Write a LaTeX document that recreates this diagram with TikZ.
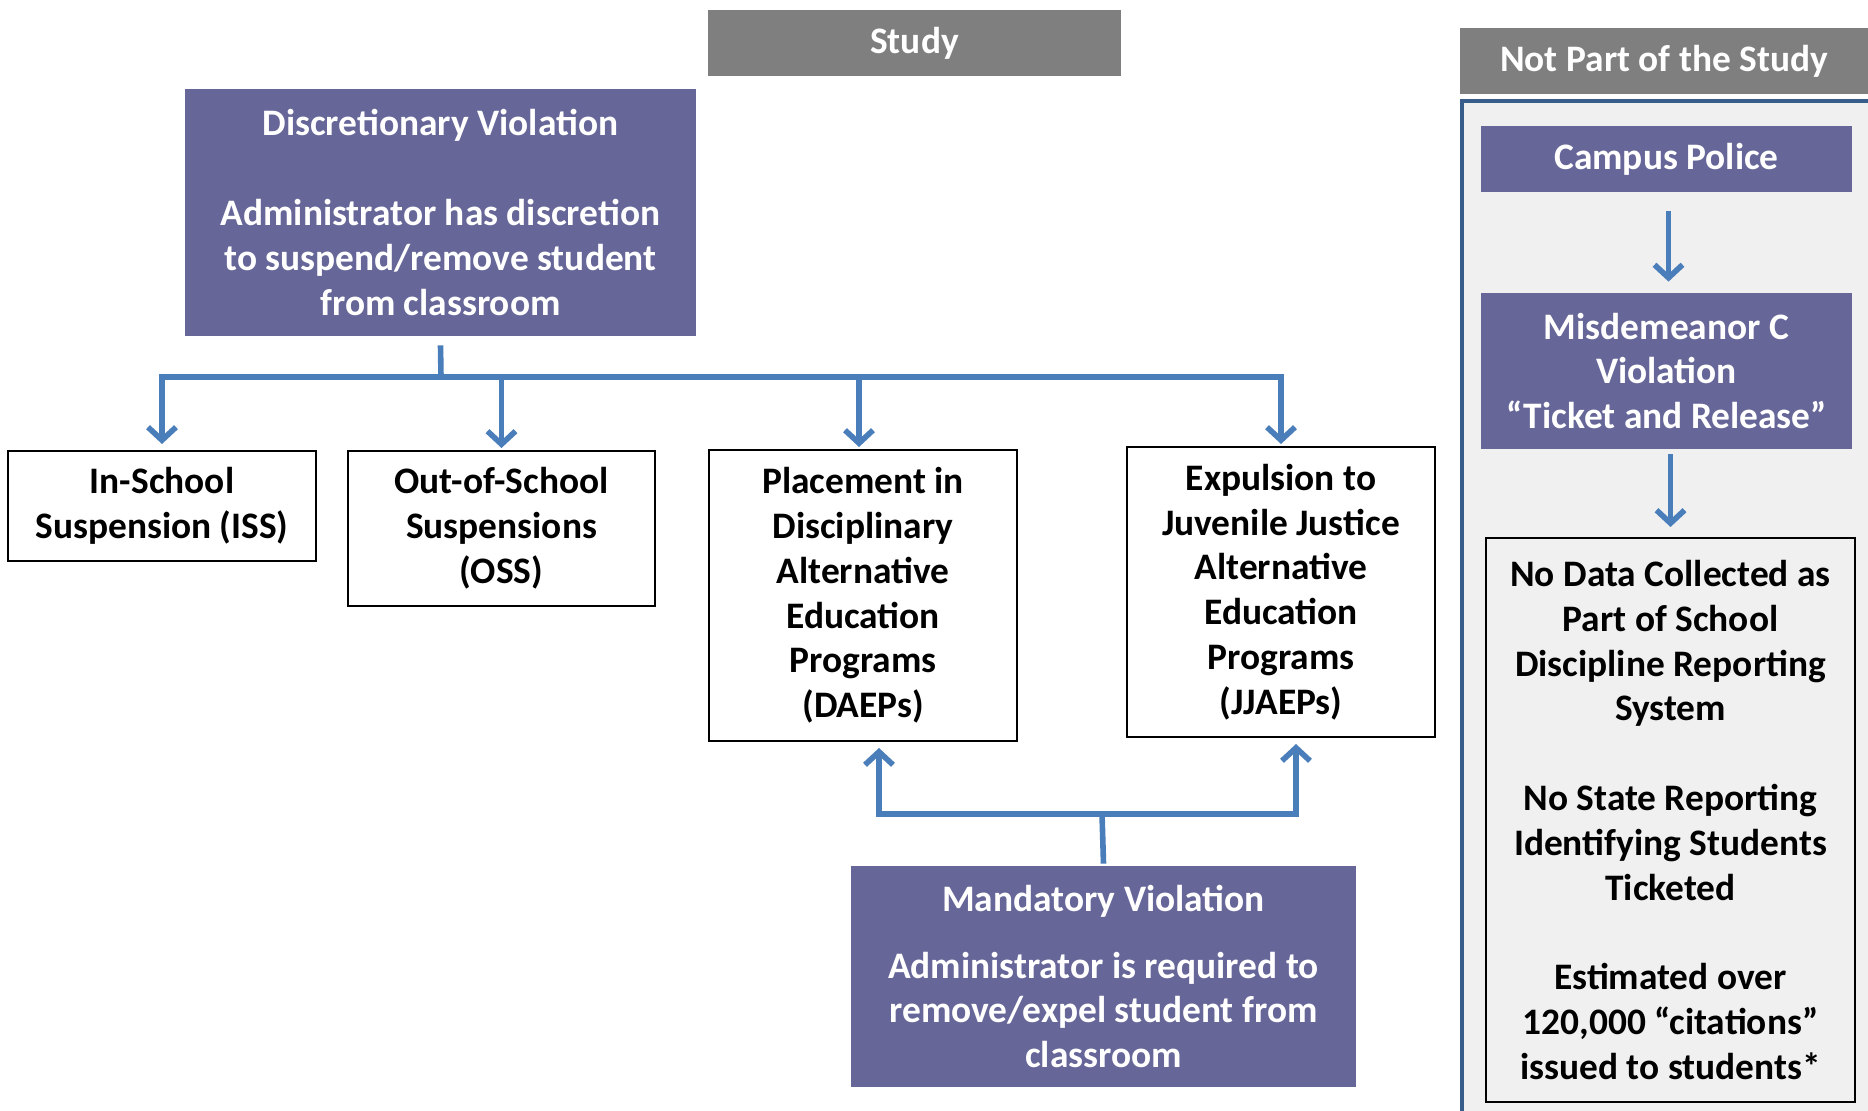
\documentclass[tikz,border=0pt]{standalone}
\usepackage{fontspec}
\setmainfont{Carlito}
\usetikzlibrary{arrows.meta, positioning, calc}

\definecolor{boxPurple}{RGB}{102,102,153}
\definecolor{headGray}{RGB}{127,127,127}
\definecolor{arrowBlue}{RGB}{74,126,187}
\definecolor{panelBlue}{RGB}{56,93,138}
\definecolor{panelGray}{RGB}{240,240,240}

\begin{document}
\begin{tikzpicture}[
  x=0.5pt, y=-0.5pt,
  txt/.style={font=\bfseries\fontsize{18.7}{22.4}\selectfont, align=center, inner sep=0pt},
  head/.style={txt, fill=headGray, text=white},
  violation/.style={txt, fill=boxPurple, text=white},
  outcome/.style={txt, draw=black, line width=1pt, fill=white},
  flow/.style={draw=arrowBlue, line width=2.8pt, -{Straight Barb[length=6.5pt, width=14pt]}},
  link/.style={draw=arrowBlue, line width=2.8pt}
]
\useasboundingbox (0,0) rectangle (1868,1111);

\fill[panelGray] (1460,99) rectangle (1868,1111);
\draw[panelBlue, line width=2pt] (1868,101) -| (1462,1111);

\node[head, minimum width=206.5pt, minimum height=32.75pt] (studyHead) at (914.5,43) {Study};
\node[head, minimum width=204pt, minimum height=33pt] (notPartHead) at (1664,61) {Not Part of the Study};

\node[violation, minimum width=255.5pt, minimum height=123.5pt] (discretionary) at (440.5,212.5) {Discretionary Violation\\[22.4pt]Administrator has discretion\\to suspend/remove student\\from classroom};
\node[outcome, minimum width=154pt, minimum height=55pt] (inSchool) at (162,506) {In-School\\Suspension (ISS)};
\node[outcome, minimum width=153.5pt, minimum height=77.5pt] (outSchool) at (501.5,528.5) {Out-of-School\\Suspensions\\(OSS)};
\node[outcome, minimum width=154pt, minimum height=145.5pt] (daep) at (863,595.5) {Placement in\\Disciplinary\\Alternative\\Education\\Programs\\(DAEPs)};
\node[outcome, minimum width=154pt, minimum height=145pt] (jjaep) at (1281,592) {Expulsion to\\Juvenile Justice\\Alternative\\Education\\Programs\\(JJAEPs)};
\node[violation, minimum width=252.5pt, minimum height=110.5pt] (mandatory) at (1103.5,976.5) {Mandatory Violation\\[11pt]Administrator is required to\\remove/expel student from\\classroom};

\node[violation, minimum width=185.5pt, minimum height=33pt] (campusPolice) at (1666.5,159) {Campus Police};
\node[violation, minimum width=185.5pt, minimum height=78pt] (misdemeanor) at (1666.5,371) {Misdemeanor C\\Violation\\“Ticket and Release”};
\node[outcome, fill=panelGray, minimum width=184.5pt, minimum height=282pt] (noData) at (1670.5,820) {No Data Collected as\\Part of School\\Discipline Reporting\\System\\[22.4pt]No State Reporting\\Identifying Students\\Ticketed\\[22.4pt]Estimated over\\120,000 “citations”\\issued to students*};

\coordinate (discSplit) at (441,377);
\coordinate (mandSplit) at (1102,814);

\draw[link] ([yshift=-4.5pt]discretionary.south) -- (discSplit);
\draw[flow] (discSplit) -| ([yshift=3pt]inSchool.north);
\draw[flow] (discSplit) -| ([yshift=1pt]outSchool.north);
\draw[flow] (discSplit) -| ([xshift=-2pt, yshift=1pt]daep.north);
\draw[flow] (discSplit) -| ([yshift=1pt]jjaep.north);

\draw[link] ([yshift=1pt]mandatory.north) -- (mandSplit);
\draw[flow] (mandSplit) -| ([xshift=8pt, yshift=-3pt]daep.south);
\draw[flow] (mandSplit) -| ([xshift=7.5pt, yshift=-3pt]jjaep.south);

\draw[flow] ([xshift=1pt, yshift=-9.5pt]campusPolice.south) -- ([xshift=1pt, yshift=5.5pt]misdemeanor.north);
\draw[flow] ([xshift=2pt, yshift=-2.5pt]misdemeanor.south) -- ([yshift=5pt]noData.north);
\end{tikzpicture}
\end{document}
